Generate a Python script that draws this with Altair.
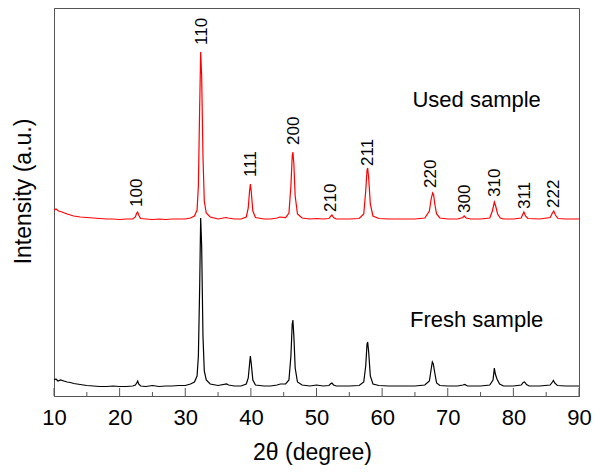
import altair as alt
import pandas as pd

# Fresh sample (black) pattern: 2theta and intensity (arbitrary units, height above axis)
fresh_x = [10.0, 10.3, 10.6, 11.0, 11.5, 12.0, 12.5, 13.0, 14.0, 15.0, 16.0, 17.0, 18.0, 19.0, 20.0, 21.0,
           22.0, 22.4, 22.6, 22.75, 22.9, 23.2, 24.0, 25.0, 26.0, 27.0, 28.0, 29.0, 30.0, 30.8, 31.4, 31.8,
           32.0, 32.2, 32.35, 32.5, 32.7, 32.9, 33.2, 33.8, 35.0, 36.3, 36.6, 37.5, 38.5, 39.3, 39.6, 39.8,
           39.92, 40.05, 40.3, 40.7, 42.0, 43.0, 44.0, 44.5, 45.3, 45.8, 46.1, 46.3, 46.4, 46.55, 46.75, 47.1,
           47.8, 49.0, 50.0, 51.0, 51.9, 52.2, 52.35, 52.6, 53.0, 55.0, 56.5, 57.2, 57.5, 57.7, 57.8, 57.95,
           58.2, 58.6, 59.5, 61.0, 63.0, 65.0, 66.5, 67.2, 67.5, 67.65, 67.8, 68.0, 68.3, 68.8, 70.0, 71.5,
           72.3, 72.6, 73.0, 75.0, 76.4, 76.9, 77.1, 77.25, 77.5, 77.9, 78.5, 80.0, 81.2, 81.5, 81.7, 82.0,
           82.4, 84.0, 85.6, 85.95, 86.1, 86.3, 86.7, 88.0, 90.0]
fresh_y = [16, 17, 15, 16, 15, 14, 13.5, 12.5, 11.5, 10.5, 10, 9.5, 9.5, 10, 9.5, 9.5,
           10, 11, 13, 15, 12, 10, 9.5, 10.5, 9.5, 10, 10, 10.5, 10.5, 12, 14, 20,
           40, 110, 178, 150, 60, 25, 16, 12, 10.5, 12, 11, 10, 10, 12, 18, 32,
           40, 33, 16, 11, 10, 10, 11, 12, 12, 16, 40, 72, 76, 60, 28, 14,
           11, 10, 11, 10, 10.5, 12.5, 13, 11, 10, 10, 10.5, 14, 30, 52, 54, 44,
           20, 12, 10.5, 10, 10, 10, 11, 15, 28, 34, 32, 24, 13, 10.5, 10, 10,
           11, 11.5, 10, 10, 11, 16, 28, 22, 17, 12, 10, 10, 11, 13.5, 14, 11.5,
           10, 10, 11, 14, 15.5, 13, 10.5, 10, 10]

# Used sample (red) pattern, offset upwards
used_x = [10.0, 10.3, 10.7, 11.2, 12.0, 13.0, 14.0, 15.0, 16.0, 17.0, 18.0, 19.0, 20.0, 21.0, 22.0, 22.4,
          22.6, 22.75, 22.9, 23.2, 24.0, 25.0, 26.0, 27.0, 28.0, 29.0, 30.0, 30.8, 31.4, 31.8, 32.0, 32.2,
          32.35, 32.5, 32.7, 32.9, 33.2, 33.8, 35.0, 36.2, 36.5, 37.5, 38.5, 39.3, 39.6, 39.8, 39.93, 40.05,
          40.3, 40.7, 42.0, 43.0, 44.0, 44.4, 45.3, 45.8, 46.1, 46.3, 46.4, 46.55, 46.75, 47.1, 47.8, 49.0,
          50.0, 51.0, 51.9, 52.2, 52.35, 52.6, 53.0, 55.0, 56.5, 57.2, 57.5, 57.7, 57.8, 57.95, 58.2, 58.6,
          59.5, 61.0, 63.0, 65.0, 66.5, 67.2, 67.5, 67.7, 67.85, 68.0, 68.3, 68.8, 70.0, 71.5, 72.3, 72.5,
          72.8, 73.5, 75.0, 76.4, 76.8, 77.1, 77.3, 77.6, 78.0, 78.5, 80.0, 81.2, 81.45, 81.6, 81.85, 82.2,
          84.0, 85.6, 85.95, 86.15, 86.4, 86.8, 88.0, 90.0]
used_y = [186, 187, 185, 184, 182, 180, 179, 178.5, 178, 177.5, 177, 177, 176.5, 177, 177, 179,
          183, 184, 181, 177.5, 177, 176.5, 177, 176.5, 177, 177, 177, 178, 180, 186, 210, 290,
          344, 320, 240, 195, 183, 179, 177, 178.5, 178, 177, 177, 179, 188, 205, 212, 205,
          185, 178.5, 177, 177, 178, 179, 178.5, 183, 210, 240, 244, 232, 200, 182, 178, 177,
          177.5, 177, 177.5, 180, 181, 178.5, 177, 177, 177.5, 182, 205, 226, 228, 218, 192, 180,
          177.5, 177, 177, 177, 178, 185, 198, 203, 201, 193, 182, 178, 177, 177, 178.5, 180,
          178, 177, 177, 178, 185, 194, 190, 182, 178, 177, 177, 178, 182, 184, 180, 177.5,
          177, 178.5, 183, 185, 181, 177.5, 177, 177]

# Miller-index labels of the used sample peaks
peak_labels = ["100", "110", "111", "200", "210", "211", "220", "300", "310", "311", "222"]
peak_label_x = [22.7, 32.55, 40.0, 46.5, 52.2, 57.8, 67.5, 72.7, 77.2, 81.7, 86.2]
peak_label_y = [189, 351, 219, 251, 184, 230, 208, 183, 199, 187, 188]

sample_names = ["Used sample", "Fresh sample"]
sample_name_x = [74.4, 74.4]
sample_name_y = [296, 76]

major_ticks = [10, 20, 30, 40, 50, 60, 70, 80, 90]
minor_ticks = [15, 25, 35, 45, 55, 65, 75, 85]

FONT = "Liberation Sans"

x_scale = alt.Scale(domain=[10, 90], nice=False, zero=False)
y_scale = alt.Scale(domain=[0, 388], nice=False, zero=False)

x_axis = alt.Axis(values=major_ticks, ticks=False, grid=False, labelFontSize=22, labelFont=FONT,
                  labelColor="black", labelPadding=11, labelFlush=False, domainColor="#555555",
                  title="2θ (degree)", titleFont=FONT, titleFontSize=23, titleFontWeight="normal",
                  titleColor="black", titleX=258, titleY=63, titleAlign="center",
                  titleBaseline="alphabetic")
y_axis = alt.Axis(labels=False, ticks=False, grid=False, domainColor="#555555",
                  title="Intensity (a.u.)", titleFont=FONT, titleFontSize=23, titleFontWeight="normal",
                  titleColor="black", titleX=-24, titleY=183, titleAngle=270, titleAlign="center",
                  titleBaseline="alphabetic")

df_fresh = pd.DataFrame({"x": fresh_x, "y": fresh_y})
df_used = pd.DataFrame({"x": used_x, "y": used_y})
df_labels = pd.DataFrame({"x": peak_label_x, "y": peak_label_y, "t": peak_labels})
df_names = pd.DataFrame({"x": sample_name_x, "y": sample_name_y, "t": sample_names})
df_major = pd.DataFrame({"x": major_ticks})
df_minor = pd.DataFrame({"x": minor_ticks})

X = alt.X("x:Q", scale=x_scale, axis=x_axis)
Y = alt.Y("y:Q", scale=y_scale, axis=y_axis)

fresh = alt.Chart(df_fresh).mark_line(color="black", strokeWidth=1.2).encode(x=X, y=Y)
used = alt.Chart(df_used).mark_line(color="#ff0000", strokeWidth=1.2).encode(x=X, y=Y)
labels = alt.Chart(df_labels).mark_text(angle=270, align="left", baseline="middle", fontSize=17,
                                        font=FONT, color="black").encode(x=X, y=Y, text="t:N")
names = alt.Chart(df_names).mark_text(align="center", baseline="middle", fontSize=22,
                                      font=FONT, color="black").encode(x=X, y=Y, text="t:N")
major = alt.Chart(df_major).mark_rule(color="#555555", strokeWidth=1).encode(
    x=X, y=alt.value(388), y2=alt.value(380))
minor = alt.Chart(df_minor).mark_rule(color="#555555", strokeWidth=1).encode(
    x=X, y=alt.value(388), y2=alt.value(384))

chart = alt.layer(major, minor, fresh, used, labels, names).properties(
    width=525, height=388,
    padding={"left": 46, "top": 0, "right": 13, "bottom": 69},
    autosize=alt.AutoSizeParams(type="none"),
    background="white",
).configure_view(stroke="#555555", strokeWidth=1)

chart.save("out.html", embed_options={"renderer": "svg", "actions": False})
